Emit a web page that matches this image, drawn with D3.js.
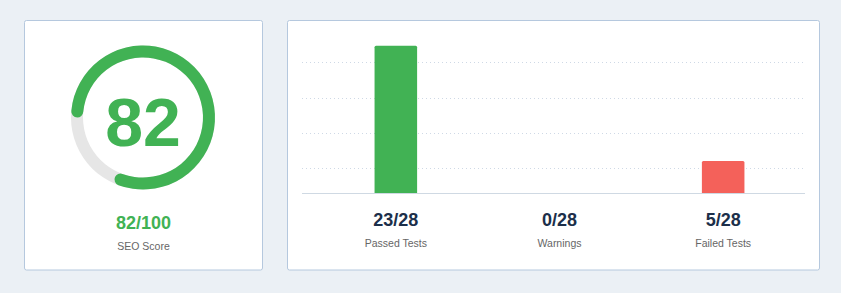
<!DOCTYPE html>
<html>
<head>
<meta charset="utf-8">
<script src="https://cdn.jsdelivr.net/npm/d3@7"></script>
<style>
  body { margin: 0; background: #ebf0f5; font-family: "Liberation Sans", Arial, sans-serif; }
</style>
</head>
<body>
<div id="chart"></div>
<script>
// data
var score = 82;
var scoreMax = 100;
var scoreLabel = "SEO Score";
var categories = ["Passed Tests", "Warnings", "Failed Tests"];
var values = [23, 0, 5];
var totalTests = 28;
var barColors = ["#41b254", "#f4b740", "#f4615a"];
var gridValues = [3.9, 9.4, 14.9, 20.4];

var W = 841, H = 293;
var svg = d3.select("#chart").append("svg")
    .attr("width", W)
    .attr("height", H);

// cards
svg.append("rect")
    .attr("x", 24.5).attr("y", 20.5)
    .attr("width", 238).attr("height", 249.5)
    .attr("rx", 2)
    .attr("fill", "#fff").attr("stroke", "#b5c8de");
svg.append("rect")
    .attr("x", 287.5).attr("y", 20.5)
    .attr("width", 532).attr("height", 249.5)
    .attr("rx", 2)
    .attr("fill", "#fff").attr("stroke", "#b5c8de");

// ---- gauge ----
var gauge = svg.append("g")
    .attr("transform", "translate(143,117.5)");

gauge.append("path")
    .attr("d", d3.arc().innerRadius(60).outerRadius(72).startAngle(0).endAngle(2 * Math.PI)())
    .attr("fill", "#e6e6e6");

var angle = d3.scaleLinear().domain([0, scoreMax]).range([-Math.PI / 2, 1.5 * Math.PI]);
gauge.append("path")
    .attr("d", d3.arc().innerRadius(60).outerRadius(72).cornerRadius(6)
        .startAngle(angle(0)).endAngle(angle(score))())
    .attr("fill", "#41b254");

gauge.append("text")
    .attr("y", 28.5)
    .attr("text-anchor", "middle")
    .style("font-size", "68px")
    .style("font-weight", "bold")
    .style("fill", "#41b254")
    .text(score);

svg.append("text")
    .attr("x", 143.5).attr("y", 228.5)
    .attr("text-anchor", "middle")
    .style("font-size", "18px")
    .style("font-weight", "bold")
    .style("fill", "#41b254")
    .text(score + "/" + scoreMax);

svg.append("text")
    .attr("x", 143.5).attr("y", 250)
    .attr("text-anchor", "middle")
    .style("font-size", "10.5px")
    .style("fill", "#666")
    .text(scoreLabel);

// ---- bars ----
var baseY = 193;
var y = d3.scaleLinear().domain([0, totalTests]).range([baseY, baseY - totalTests * 6.4]);
var x = d3.scaleBand()
    .domain(categories)
    .range([314, 805])
    .paddingInner(0.74)
    .paddingOuter(0.37);

// dotted grid
svg.append("g").selectAll("line")
    .data(gridValues)
    .enter().append("line")
      .attr("x1", 302).attr("x2", 805)
      .attr("y1", function(d) { return Math.round(y(d)) + 0.5; })
      .attr("y2", function(d) { return Math.round(y(d)) + 0.5; })
      .attr("stroke", "#cfd9e6")
      .attr("stroke-dasharray", "1,3");

svg.append("g").selectAll("path")
    .data(values)
    .enter().append("path")
      .attr("d", function(d, i) {
        if (d === 0) return null;
        var x0 = x(categories[i]), x1 = x0 + x.bandwidth(), y0 = y(d), r = 1.5;
        return "M" + x0 + "," + baseY + "V" + (y0 + r) + "Q" + x0 + "," + y0 + " " + (x0 + r) + "," + y0 +
          "H" + (x1 - r) + "Q" + x1 + "," + y0 + " " + x1 + "," + (y0 + r) + "V" + baseY + "Z";
      })
      .attr("fill", function(d, i) { return barColors[i]; });

// baseline
svg.append("line")
    .attr("x1", 302).attr("x2", 805)
    .attr("y1", baseY + 0.5).attr("y2", baseY + 0.5)
    .attr("stroke", "#cfd9e3");

var labels = svg.append("g").selectAll("g")
    .data(categories)
    .enter().append("g")
      .attr("transform", function(d) { return "translate(" + (x(d) + x.bandwidth() / 2) + ",0)"; });

labels.append("text")
    .attr("y", 225.5)
    .attr("text-anchor", "middle")
    .style("font-size", "18px")
    .style("font-weight", "bold")
    .style("fill", "#1c2f4a")
    .text(function(d, i) { return values[i] + "/" + totalTests; });

labels.append("text")
    .attr("y", 247)
    .attr("text-anchor", "middle")
    .style("font-size", "10.5px")
    .style("fill", "#666")
    .text(function(d) { return d; });
</script>
</body>
</html>
